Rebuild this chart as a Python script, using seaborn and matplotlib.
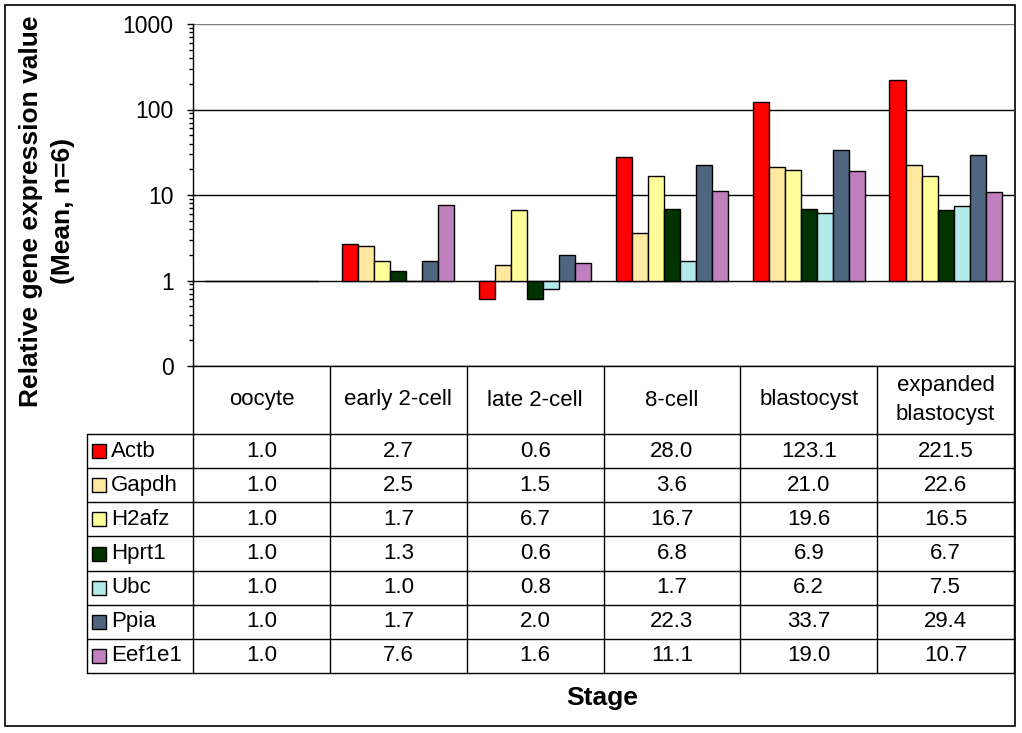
import numpy as np
import pandas as pd
import matplotlib
matplotlib.use("Agg")
import matplotlib.pyplot as plt
from matplotlib.lines import Line2D
from matplotlib.patches import Rectangle
from matplotlib.ticker import FixedLocator, FixedFormatter
import seaborn as sns

# data
stages = ["oocyte", "early 2-cell", "late 2-cell", "8-cell", "blastocyst", "expanded\nblastocyst"]
genes = ["Actb", "Gapdh", "H2afz", "Hprt1", "Ubc", "Ppia", "Eef1e1"]
actb = [1.0, 2.7, 0.6, 28.0, 123.1, 221.5]
gapdh = [1.0, 2.5, 1.5, 3.6, 21.0, 22.6]
h2afz = [1.0, 1.7, 6.7, 16.7, 19.6, 16.5]
hprt1 = [1.0, 1.3, 0.6, 6.8, 6.9, 6.7]
ubc = [1.0, 1.0, 0.8, 1.7, 6.2, 7.5]
ppia = [1.0, 1.7, 2.0, 22.3, 33.7, 29.4]
eef1e1 = [1.0, 7.6, 1.6, 11.1, 19.0, 10.7]
colors = ["#FF0000", "#FFE8A0", "#FFFF99", "#003300", "#B3EBEB", "#4E6680", "#C080C0"]
ytick_vals = [0.1, 1, 10, 100, 1000]
ytick_labels = ["0", "1", "10", "100", "1000"]

series = [actb, gapdh, h2afz, hprt1, ubc, ppia, eef1e1]
rows = []
for g, vals in zip(genes, series):
    for s, v in zip(stages, vals):
        rows.append({"Stage": s, "Gene": g, "Value": v})
df = pd.DataFrame(rows)
# Excel log axis crosses at 1 -> plot in log10 units so bars start at 1
df["LogValue"] = np.log10(df["Value"])

sns.set_style("white")
plt.rcParams["font.family"] = ["Liberation Sans", "DejaVu Sans"]
plt.rcParams["text.color"] = "black"
plt.rcParams["ytick.color"] = "black"
plt.rcParams["ytick.labelcolor"] = "black"

W, H = 1022, 733
fig = plt.figure(figsize=(W / 100, H / 100), dpi=100)

def fx(px):
    return px / W

def fy(py):
    return 1 - py / H

left, right, top, bottom = 193, 1014, 24, 366
ax = fig.add_axes([fx(left), fy(bottom), fx(right - left), fy(top) - fy(bottom)])

sns.barplot(data=df, x="Stage", y="LogValue", hue="Gene", order=stages, hue_order=genes,
            palette=dict(zip(genes, colors)), width=0.82, errorbar=None, saturation=1,
            edgecolor="black", linewidth=1, legend=False, ax=ax)

ax.set_xlim(-0.5, len(stages) - 0.5)
ax.set_ylim(-1, 3)
ax.yaxis.set_major_locator(FixedLocator(np.log10(ytick_vals)))
ax.yaxis.set_major_formatter(FixedFormatter(ytick_labels))
minors = [np.log10(k * 10.0 ** n) for n in range(-1, 3) for k in range(2, 10)]
ax.yaxis.set_minor_locator(FixedLocator(minors))
ax.tick_params(axis="y", which="major", direction="out", length=4, width=1,
               color="black", labelcolor="black", labelsize=16.5, pad=10, left=True)
ax.tick_params(axis="y", which="minor", direction="out", length=3, width=1,
               color="black", left=True)
ax.set_xticks([])
ax.set_xlabel("")
ax.set_ylabel("")

ax.set_axisbelow(True)
ax.yaxis.grid(True, which="major", color="black", linewidth=1)
ax.xaxis.grid(False)
ax.yaxis.get_gridlines()[-1].set_color("#808080")
for side in ["top", "right"]:
    ax.spines[side].set_visible(False)
for side in ["left", "bottom"]:
    ax.spines[side].set_color("black")
    ax.spines[side].set_linewidth(1)

# data table under the plot
col_edges = np.linspace(left, right, len(stages) + 1)
row_edges = np.linspace(434, 673, len(genes) + 1)
lbl_left = 87

def hline(y, x0, x1):
    fig.add_artist(Line2D([fx(x0), fx(x1)], [fy(y), fy(y)], color="black", lw=1))

def vline(x, y0, y1):
    fig.add_artist(Line2D([fx(x), fx(x)], [fy(y0), fy(y1)], color="black", lw=1))

for x in col_edges:
    vline(x, bottom, row_edges[-1])
vline(lbl_left, row_edges[0], row_edges[-1])
for y in row_edges:
    hline(y, lbl_left, right)

for j, s in enumerate(stages):
    cx = (col_edges[j] + col_edges[j + 1]) / 2
    fig.text(fx(cx), fy((bottom + row_edges[0]) / 2), s, ha="center", va="center",
             fontsize=16, linespacing=1.45)

for i, (g, vals) in enumerate(zip(genes, series)):
    cy = (row_edges[i] + row_edges[i + 1]) / 2
    fig.add_artist(Rectangle((fx(92), fy(cy + 7)), fx(14), fy(0) - fy(14),
                             facecolor=colors[i], edgecolor="black", lw=1,
                             transform=fig.transFigure))
    fig.text(fx(111), fy(cy), g, ha="left", va="center", fontsize=16)
    for j, v in enumerate(vals):
        cx = (col_edges[j] + col_edges[j + 1]) / 2
        fig.text(fx(cx), fy(cy), f"{v:.1f}", ha="center", va="center", fontsize=16)

fig.text(fx(47), fy(211), "Relative gene expression value\n(Mean, n=6)", rotation=90,
         ha="center", va="center", fontsize=19, fontweight="bold", linespacing=1.4)
fig.text(fx(602), fy(698), "Stage", ha="center", va="center", fontsize=19, fontweight="bold")

# chart border
fig.add_artist(Rectangle((fx(5), fy(726)), fx(1015 - 5), fy(5) - fy(726), fill=False,
                         edgecolor="black", lw=1.2, transform=fig.transFigure))

fig.savefig("out.png", dpi=100)
